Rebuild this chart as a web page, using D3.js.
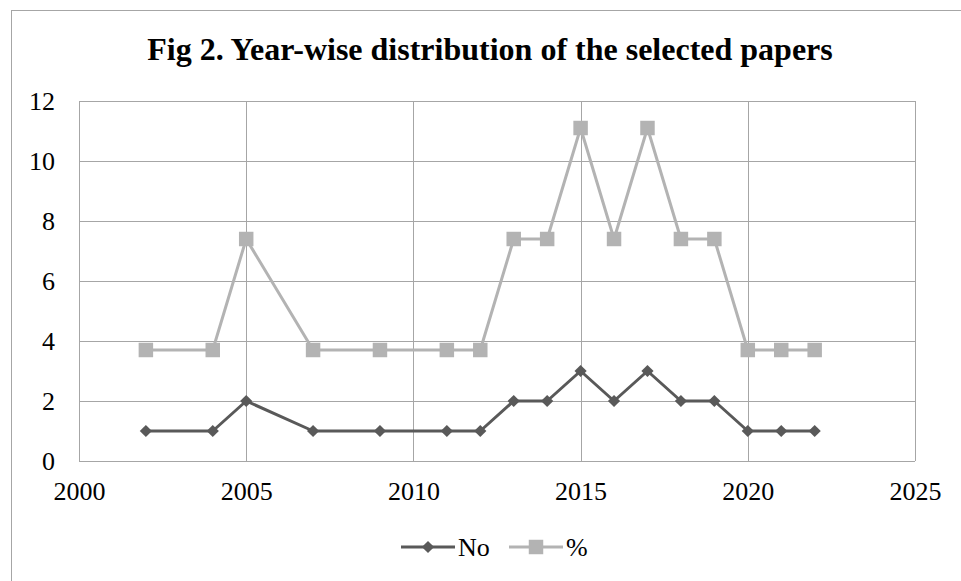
<!DOCTYPE html>
<html>
<head>
<meta charset="utf-8">
<script src="https://cdn.jsdelivr.net/npm/d3@7"></script>
<style>
  html, body { margin: 0; padding: 0; background: #fff; }
  svg { display: block; }
</style>
</head>
<body>
<svg id="chart" width="961" height="581"></svg>
<script>
// data
const years = [2002, 2004, 2005, 2007, 2009, 2011, 2012, 2013, 2014, 2015, 2016, 2017, 2018, 2019, 2020, 2021, 2022];
const countValues = [1, 1, 2, 1, 1, 1, 1, 2, 2, 3, 2, 3, 2, 2, 1, 1, 1];
const percentValues = [3.7, 3.7, 7.4, 3.7, 3.7, 3.7, 3.7, 7.4, 7.4, 11.1, 7.4, 11.1, 7.4, 7.4, 3.7, 3.7, 3.7];
const xTicks = [2000, 2005, 2010, 2015, 2020, 2025];
const yTicks = [0, 2, 4, 6, 8, 10, 12];
const seriesNames = ['No', '%'];

const svg = d3.select('#chart');
const font = '"Liberation Serif", "Times New Roman", serif';

// outer frame
svg.append('rect')
    .attr('x', 11.5).attr('y', 10.5)
    .attr('width', 1000).attr('height', 1000)
    .attr('fill', 'none')
    .attr('stroke', '#a6a6a6')
    .attr('stroke-width', 1);

const plot = { left: 79, top: 101, right: 915, bottom: 461 };

const x = d3.scaleLinear().domain([2000, 2025]).range([plot.left, plot.right]);
const y = d3.scaleLinear().domain([0, 12]).range([plot.bottom, plot.top]);

// title
svg.append('text')
    .attr('x', 490)
    .attr('y', 60)
    .attr('text-anchor', 'middle')
    .style('font-family', font)
    .style('font-size', '32px')
    .style('font-weight', 'bold')
    .text('Fig 2. Year-wise distribution of the selected papers');

// grid
const grid = svg.append('g').attr('stroke', '#a6a6a6').attr('stroke-width', 1);
yTicks.forEach(t => {
    grid.append('line')
        .attr('x1', plot.left).attr('x2', plot.right)
        .attr('y1', Math.round(y(t)) + 0.5).attr('y2', Math.round(y(t)) + 0.5);
});
xTicks.forEach(t => {
    grid.append('line')
        .attr('x1', Math.round(x(t)) + 0.5).attr('x2', Math.round(x(t)) + 0.5)
        .attr('y1', plot.top).attr('y2', plot.bottom);
});

// axes (labels only)
const yAxis = d3.axisLeft(y).tickValues(yTicks).tickSize(0).tickPadding(0);
svg.append('g')
    .attr('transform', `translate(${plot.left - 24}, 0)`)
    .call(yAxis)
    .attr('font-family', font)
    .call(g => g.select('.domain').remove())
    .selectAll('text')
    .style('font-family', font)
    .style('font-size', '26px')
    .attr('fill', '#000');

const xAxis = d3.axisBottom(x).tickValues(xTicks).tickFormat(d3.format('d')).tickSize(0).tickPadding(0);
svg.append('g')
    .attr('transform', `translate(0, ${plot.bottom + 21})`)
    .call(xAxis)
    .attr('font-family', font)
    .call(g => g.select('.domain').remove())
    .selectAll('text')
    .style('font-family', font)
    .style('font-size', '26px')
    .attr('fill', '#000');

const line = d3.line().x(d => x(d.year)).y(d => y(d.value));

const series = [
    { name: seriesNames[0], color: '#595959', symbol: d3.symbolDiamond2, size: 95,
      values: years.map((yr, i) => ({ year: yr, value: countValues[i] })) },
    { name: seriesNames[1], color: '#b3b3b3', symbol: d3.symbolSquare, size: 210,
      values: years.map((yr, i) => ({ year: yr, value: percentValues[i] })) }
];

series.slice().reverse().forEach(s => {
    const g = svg.append('g');
    g.append('path')
        .attr('d', line(s.values))
        .attr('fill', 'none')
        .attr('stroke', s.color)
        .attr('stroke-width', 3)
        .attr('stroke-linejoin', 'round');
    g.selectAll('path.marker')
        .data(s.values)
        .enter().append('path')
        .attr('class', 'marker')
        .attr('transform', d => `translate(${x(d.year)}, ${y(d.value)})`)
        .attr('d', d3.symbol().type(s.symbol).size(s.size))
        .attr('fill', s.color);
});

// legend
const legend = svg.append('g');
const legendItems = [
    { s: series[0], x0: 401, textX: 458 },
    { s: series[1], x0: 509, textX: 566 }
];
legendItems.forEach(item => {
    const ly = 547;
    legend.append('line')
        .attr('x1', item.x0).attr('x2', item.x0 + 54)
        .attr('y1', ly).attr('y2', ly)
        .attr('stroke', item.s.color)
        .attr('stroke-width', 3);
    legend.append('path')
        .attr('transform', `translate(${item.x0 + 27}, ${ly})`)
        .attr('d', d3.symbol().type(item.s.symbol).size(item.s.size))
        .attr('fill', item.s.color);
    legend.append('text')
        .attr('x', item.textX)
        .attr('y', ly + 9)
        .style('font-family', font)
        .style('font-size', '26px')
        .text(item.s.name);
});
</script>
</body>
</html>
